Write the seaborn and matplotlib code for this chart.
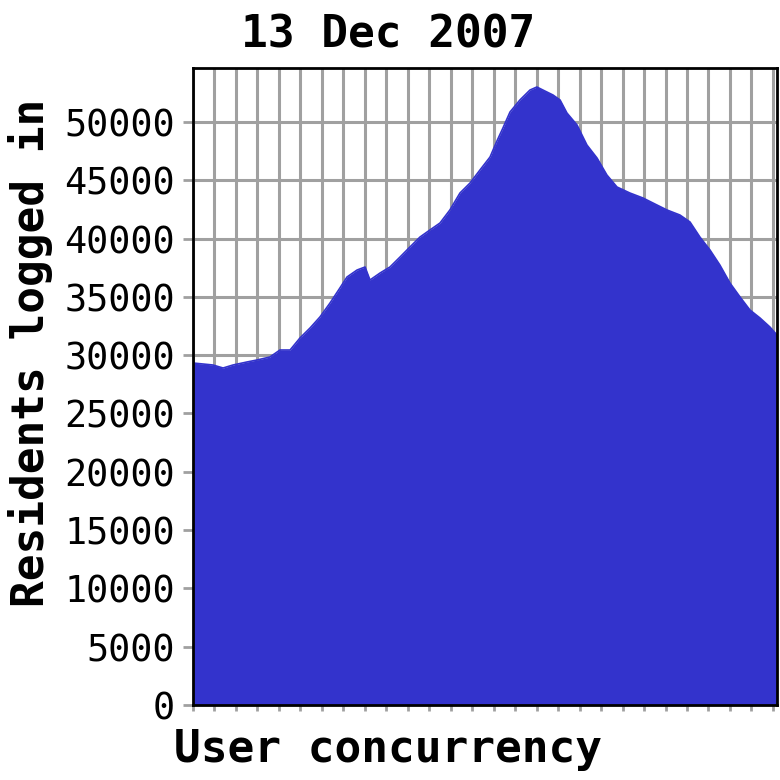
import numpy as np
import pandas as pd
import matplotlib
matplotlib.use("Agg")
import matplotlib.pyplot as plt
import seaborn as sns

title = "13 Dec 2007"
ylabel = "Residents logged in"
xlabel = "User concurrency"

hours = [0.00, 0.47, 0.93, 1.40, 1.86, 2.51, 2.98, 3.58, 4.05, 4.52,
         4.98, 5.45, 5.91, 6.38, 6.84, 7.17, 7.64, 8.01, 8.24, 8.71,
         9.17, 9.64, 10.10, 10.57, 11.03, 11.50, 11.96, 12.43, 12.90, 13.36,
         13.83, 14.15, 14.43, 14.76, 15.22, 15.69, 16.01, 16.29, 16.76, 17.09,
         17.41, 17.88, 18.34, 18.81, 19.27, 19.74, 20.34, 20.95, 21.60, 22.07,
         22.67, 23.14, 23.60, 24.07, 24.53, 25.00, 25.47, 25.93, 26.40, 26.86,
         27.19]
residents = [29330, 29244, 29158, 28901, 29158, 29416, 29587, 29844, 30445, 30445,
             31474, 32332, 33275, 34476, 35762, 36705, 37306, 37563, 36448, 37049,
             37563, 38420, 39278, 40136, 40736, 41336, 42451, 43909, 44767, 45882,
             46996, 48369, 49484, 50856, 51885, 52742, 53000, 52742, 52314, 51885,
             50770, 49741, 48026, 46911, 45453, 44424, 43909, 43480, 42880, 42451,
             42022, 41422, 40136, 39021, 37734, 36191, 34990, 33875, 33189, 32417,
             31731]
yticks = [0, 5000, 10000, 15000, 20000, 25000, 30000, 35000, 40000, 45000, 50000]
xticks = list(range(28))

fill_color = "#3333cc"
grid_color = "#a0a0a0"

sns.set_theme(style="white")
plt.rcParams['font.family'] = ['DejaVu Sans Mono', 'DejaVu Sans']
plt.rcParams['text.color'] = 'black'

fig = plt.figure(figsize=(7.8, 7.8), dpi=100)
ax = fig.add_axes([193/780, 75/780, 584/780, 637/780])

df = pd.DataFrame({"hour": hours, "residents": residents})
ax.fill_between(df["hour"], 0, df["residents"], color=fill_color, lw=0, zorder=2)
sns.lineplot(data=df, x="hour", y="residents", ax=ax, color=fill_color, lw=1.2, zorder=3)

ax.set_xlim(0, 27.19)
ax.set_ylim(0, 54630)
ax.set_xticks(xticks)
ax.set_xticklabels([])
ax.set_yticks(yticks)
ax.set_yticklabels([str(v) for v in yticks])
ax.grid(True, color=grid_color, lw=2.2)
ax.set_axisbelow(True)
ax.tick_params(axis='y', length=7, width=2, color=grid_color, pad=6, labelsize=26.5,
               labelcolor='black', left=True, direction='out')
ax.tick_params(axis='x', length=4, width=2, color=grid_color, bottom=True, direction='out')
for s in ax.spines.values():
    s.set_color('black')
    s.set_linewidth(2)
    s.set_zorder(5)
ax.set_xlabel('')
ax.set_ylabel('')

fig.text(388.5/780, (780-47)/780, title, ha='center', va='baseline',
         fontsize=32, fontweight='bold', color='black')
fig.text(31/780, (780-353)/780, ylabel, ha='center', va='center', rotation=90,
         fontsize=32, fontweight='bold', color='black')
fig.text(387.5/780, (780-762)/780, xlabel, ha='center', va='baseline',
         fontsize=32, fontweight='bold', color='black')

fig.savefig("out.png", dpi=100)
